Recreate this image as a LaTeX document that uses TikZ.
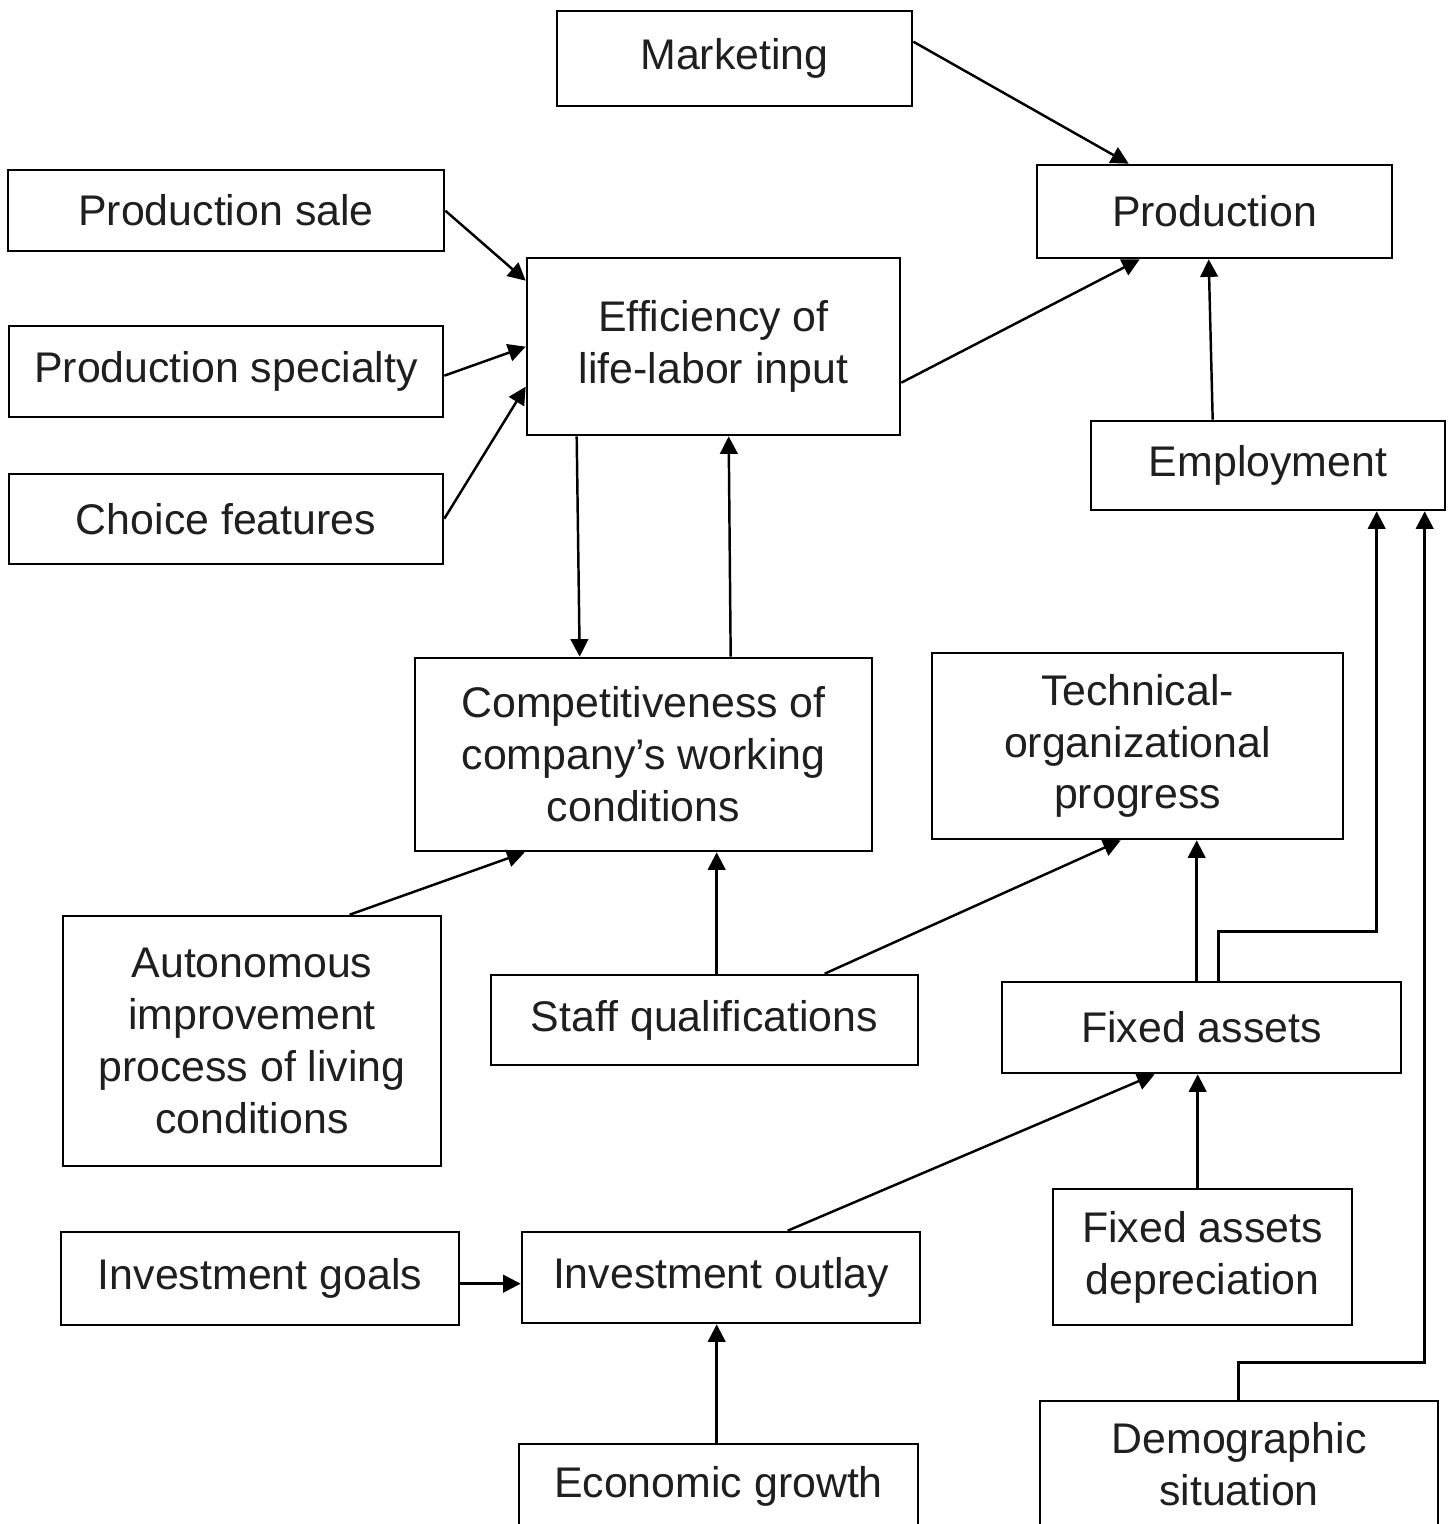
\documentclass[tikz,border=0pt]{standalone}
\usepackage{fontspec}
\setmainfont{Liberation Sans}
\usetikzlibrary{calc,arrows.meta}
\newcommand\boxnode[6]{%
  \node[box, minimum width={(#4-#2)*0.02cm}, minimum height={(#5-#3)*0.02cm}]
    (#1) at ({(#2+#4)/2},{(#3+#5)/2}) {#6};}
\begin{document}
\begin{tikzpicture}[x=0.02cm,y=-0.02cm,
  box/.style={draw, line width=1.5pt, inner sep=0pt, align=center,
    font=\fontsize{24.4pt}{29.5pt}\selectfont, text=black!88},
  conn/.style={line width=1.4pt, -{Triangle[length=10pt,width=10pt]}}]
\useasboundingbox (0,0) rectangle (1448,1524);
\begin{scope}
\clip (0,0) rectangle (1448,1524);
\boxnode{mkt}{557}{11}{912}{106}{Marketing}
\boxnode{prod}{1037}{165}{1392}{258}{Production}
\boxnode{psale}{8}{170}{444}{251}{Production sale}
\boxnode{eff}{527}{258}{900}{435}{Efficiency of\\life-labor input}
\boxnode{pspec}{9}{326}{443}{417}{Production specialty}
\boxnode{choice}{9}{474}{443}{564}{Choice features}
\boxnode{emp}{1091}{421}{1445}{510}{Employment}
\boxnode{comp}{415}{658}{872}{851}{Competitiveness of\\company’s working\\conditions}
\boxnode{tech}{932}{653}{1343}{839}{Technical-\\organizational\\progress}
\boxnode{auto}{63}{916}{441}{1166}{Autonomous\\improvement\\process of living\\conditions}
\boxnode{staff}{491}{975}{918}{1065}{Staff qualifications}
\boxnode{fixed}{1002}{982}{1401}{1073}{Fixed assets}
\boxnode{igoals}{61}{1232}{459}{1325}{Investment goals}
\boxnode{iout}{522}{1232}{920}{1323}{Investment outlay}
\boxnode{dep}{1053}{1189}{1352}{1325}{Fixed assets\\depreciation}
\boxnode{econ}{519}{1444}{918}{1528}{Economic growth}
\boxnode{demo}{1040}{1401}{1438}{1528}{Demographic\\situation}

\draw[conn] ($(mkt.north east)+(0,32)$) -- ($(prod.north west)+(93,0)$);
\draw[conn] ($(psale.north east)+(0,42)$) -- ($(eff.north west)+(0,24)$);
\draw[conn] ($(pspec.north east)+(0,51)$) -- ($(eff.north west)+(0,90)$);
\draw[conn] ($(choice.north east)+(0,46)$) -- ($(eff.north west)+(0,130)$);
\draw[conn] ($(eff.north east)+(0,126)$) -- ($(prod.south west)+(104,0)$);
\draw[conn] ($(emp.north west)+(123,0)$) -- ($(prod.south west)+(173,0)$);
\draw[conn] ($(eff.south west)+(51,0)$) -- ($(comp.north west)+(166,0)$);
\draw[conn] ($(comp.north west)+(317,0)$) -- ($(eff.south west)+(203,0)$);
\draw[conn] ($(auto.north west)+(288,0)$) -- ($(comp.south west)+(111,0)$);
\draw[conn] ($(staff.north west)+(227,0)$) -- ($(comp.south west)+(303,0)$);
\draw[conn] ($(staff.north west)+(335,0)$) -- ($(tech.south west)+(190,0)$);
\draw[conn] ($(fixed.north west)+(196,0)$) -- ($(tech.south west)+(266,0)$);
\draw[conn] ($(fixed.north west)+(218,0)$) -- ++(0,-49) -| ($(emp.south west)+(287,0)$);
\draw[conn] ($(demo.north west)+(200,0)$) -- ++(0,-37) -| ($(emp.south west)+(335,0)$);
\draw[conn] ($(iout.north west)+(267,0)$) -- ($(fixed.south west)+(154,0)$);
\draw[conn] ($(dep.north west)+(146,0)$) -- ($(fixed.south west)+(197,0)$);
\draw[conn] ($(igoals.north east)+(0,53)$) -- ($(iout.north west)+(0,53)$);
\draw[conn] ($(econ.north west)+(199,0)$) -- ($(iout.south west)+(196,0)$);
\end{scope}
\end{tikzpicture}
\end{document}
